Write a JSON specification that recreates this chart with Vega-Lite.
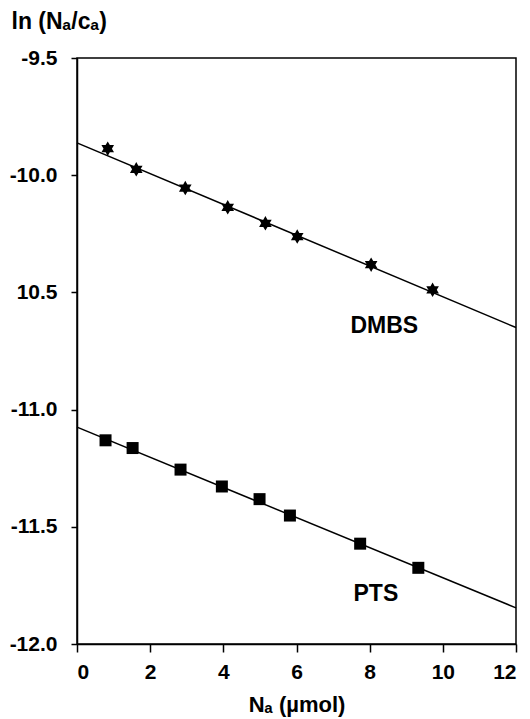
{
  "$schema": "https://vega.github.io/schema/vega-lite/v6.json",
  "width": 439,
  "height": 586,
  "autosize": "none",
  "padding": {"left": 77, "top": 58, "right": 14, "bottom": 75},
  "background": "white",
  "config": {
    "view": {"stroke": "black", "strokeWidth": 1.5},
    "font": "Liberation Sans"
  },
  "datasets": {
    "points": [
      {"series": "DMBS", "x": 0.84, "y": -9.887},
      {"series": "DMBS", "x": 1.62, "y": -9.975},
      {"series": "DMBS", "x": 2.96, "y": -10.055},
      {"series": "DMBS", "x": 4.12, "y": -10.137},
      {"series": "DMBS", "x": 5.15, "y": -10.205},
      {"series": "DMBS", "x": 6.02, "y": -10.262},
      {"series": "DMBS", "x": 8.04, "y": -10.382},
      {"series": "DMBS", "x": 9.72, "y": -10.489},
      {"series": "PTS", "x": 0.78, "y": -11.131},
      {"series": "PTS", "x": 1.52, "y": -11.164},
      {"series": "PTS", "x": 2.83, "y": -11.256},
      {"series": "PTS", "x": 3.96, "y": -11.328},
      {"series": "PTS", "x": 4.99, "y": -11.382},
      {"series": "PTS", "x": 5.82, "y": -11.452},
      {"series": "PTS", "x": 7.74, "y": -11.572},
      {"series": "PTS", "x": 9.33, "y": -11.675}
    ],
    "fits": [
      {"series": "DMBS", "x": 0, "y": -9.862},
      {"series": "DMBS", "x": 12, "y": -10.65},
      {"series": "PTS", "x": 0, "y": -11.075},
      {"series": "PTS", "x": 12, "y": -11.846}
    ],
    "labels": [
      {"series": "DMBS", "x": 8.4, "y": -10.643},
      {"series": "PTS", "x": 8.17, "y": -11.785}
    ]
  },
  "encoding": {
    "x": {
      "field": "x", "type": "quantitative",
      "scale": {"domain": [0, 12], "nice": false, "zero": false},
      "axis": {
        "title": "Nₐ (µmol)",
        "values": [0, 2, 4, 6, 8, 10, 12],
        "grid": false,
        "domainColor": "black", "domainWidth": 1.5,
        "tickColor": "black", "tickWidth": 1.5, "tickSize": 8,
        "labelFont": "Liberation Sans", "labelFontWeight": "bold", "labelFontSize": 21, "labelColor": "black",
        "labelPadding": 9,
        "titleFont": "Liberation Sans", "titleFontWeight": "bold", "titleFontSize": 22, "titleColor": "black",
        "titlePadding": 12
      }
    },
    "y": {
      "field": "y", "type": "quantitative",
      "scale": {"domain": [-12, -9.5], "nice": false, "zero": false},
      "axis": {
        "title": "ln (Nₐ/cₐ)",
        "values": [-12, -11.5, -11, -10.5, -10, -9.5],
        "labelExpr": "datum.value == -10.5 ? '10.5' : '-' + format(abs(datum.value), '.1f')",
        "grid": false,
        "domainColor": "black", "domainWidth": 1.5,
        "tickColor": "black", "tickWidth": 1.5, "tickSize": 6,
        "labelFont": "Liberation Sans", "labelFontWeight": "bold", "labelFontSize": 21, "labelColor": "black",
        "labelPadding": 14,
        "titleFont": "Liberation Sans", "titleFontWeight": "bold", "titleFontSize": 23, "titleColor": "black",
        "titleAngle": 0, "titleAlign": "left", "titleBaseline": "middle",
        "titleX": -66, "titleY": -37
      }
    }
  },
  "layer": [
    {
      "data": {"name": "fits"},
      "mark": {"type": "line", "color": "black", "strokeWidth": 1.5},
      "encoding": {"detail": {"field": "series"}}
    },
    {
      "data": {"name": "points"},
      "transform": [{"filter": "datum.series == 'DMBS'"}],
      "mark": {
        "type": "point", "filled": true, "color": "black", "opacity": 1, "size": 210,
        "shape": "M0,-1L0.29,-0.5L0.87,-0.5L0.58,0L0.87,0.5L0.29,0.5L0,1L-0.29,0.5L-0.87,0.5L-0.58,0L-0.87,-0.5L-0.29,-0.5Z"
      }
    },
    {
      "data": {"name": "points"},
      "transform": [{"filter": "datum.series == 'PTS'"}],
      "mark": {"type": "square", "color": "black", "opacity": 1, "size": 144}
    },
    {
      "data": {"name": "labels"},
      "mark": {"type": "text", "font": "Liberation Sans", "fontWeight": "bold", "fontSize": 23, "color": "black", "align": "center", "baseline": "middle"},
      "encoding": {"text": {"field": "series"}}
    }
  ]
}
